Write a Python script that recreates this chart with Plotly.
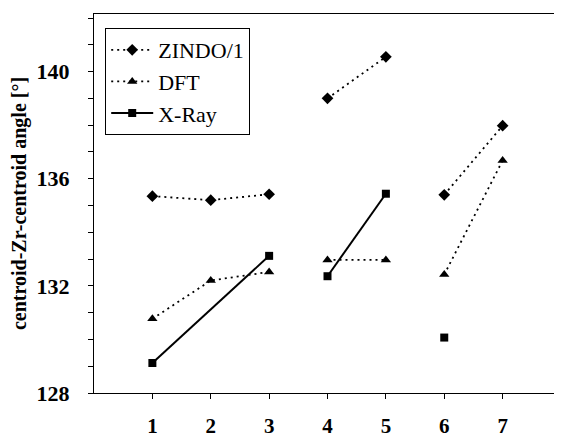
import plotly.graph_objects as go

structures = [1, 2, 3, 4, 5, 6, 7]
zindo = [135.35, 135.2, 135.42, 139.0, 140.55, 135.4, 137.98]
dft = [130.77, 132.2, 132.52, 132.97, 132.97, 132.42, 136.68]
xray = [129.12, None, 133.12, 132.36, 135.44, 130.07, None]
segments = [[1, 2, 3], [4, 5], [6, 7]]
y_ticks = [128, 132, 136, 140]

series = [
    ("ZINDO/1", zindo, "diamond", "2px,4px", 9),
    ("DFT", dft, "triangle-up", "2px,4px", 9),
    ("X-Ray", xray, "square", "solid", 8),
]

fig = go.Figure()
for name, vals, sym, dash, msize in series:
    first = True
    for seg in segments:
        xs, ys = [], []
        for s in seg:
            v = vals[structures.index(s)]
            if v is not None:
                xs.append(s)
                ys.append(v)
        if not xs:
            continue
        fig.add_trace(go.Scatter(
            x=xs, y=ys, mode="lines+markers", name=name,
            legendgroup=name, showlegend=first,
            line=dict(color="black", width=2 if dash == "solid" else 1.8, dash=dash),
            marker=dict(symbol=sym, size=msize, color="black"),
        ))
        first = False

font_serif = "Liberation Serif, Times New Roman, serif"
# page body has an 8px margin, so the figure is shrunk by that amount
fig.update_layout(
    width=554, height=429,
    margin=dict(l=86, r=1, t=6, b=44),
    paper_bgcolor="white", plot_bgcolor="white",
    font=dict(family=font_serif, color="black"),
    showlegend=True,
    legend=dict(
        x=0.024, y=0.963, xanchor="left", yanchor="top",
        bordercolor="black", borderwidth=1, bgcolor="white",
        font=dict(size=22, family=font_serif), tracegroupgap=0,
        itemwidth=42,
    ),
    xaxis=dict(
        range=[0, 8], tickvals=structures, ticks="outside", ticklen=5,
        tickcolor="black", showline=True, linecolor="black", linewidth=1.2,
        mirror=True, showgrid=False, zeroline=False, automargin=False,
        tickfont=dict(size=21, family=font_serif, weight="bold"),
        ticklabelstandoff=9,
    ),
    yaxis=dict(
        range=[128, 142.15], tickvals=y_ticks, ticks="outside", ticklen=5,
        tickcolor="black", showline=True, linecolor="black", linewidth=1.2,
        mirror=True, showgrid=False, zeroline=False, automargin=False,
        minor=dict(dtick=1, ticks="outside", ticklen=5, tickcolor="black"),
        tickfont=dict(size=22, family=font_serif, weight="bold"),
        ticklabelstandoff=14,
        title=dict(text="centroid-Zr-centroid angle [°]",
                   font=dict(size=20, family=font_serif, weight="bold"),
                   standoff=4),
    ),
)

fig.write_html("out.html")
